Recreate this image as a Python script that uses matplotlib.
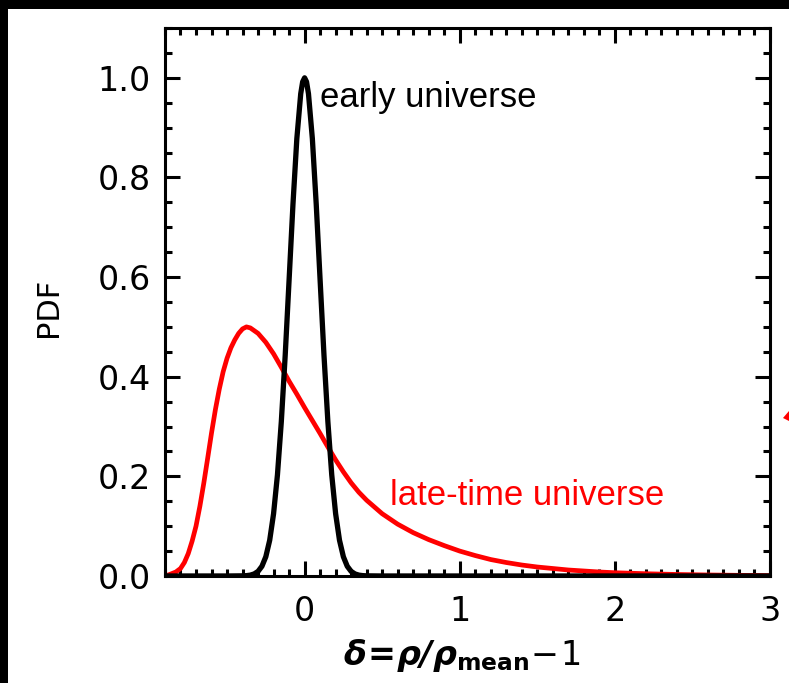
import matplotlib
matplotlib.use("Agg")
import matplotlib.pyplot as plt
from matplotlib.patches import Rectangle, Polygon
from matplotlib.ticker import MultipleLocator, FormatStrFormatter

# -------------------------
# data
# -------------------------
early_x = [-0.9, -0.5, -0.4, -0.375, -0.35, -0.325, -0.3, -0.275, -0.25, -0.225, -0.2,
           -0.175, -0.15, -0.125, -0.1, -0.075, -0.05, -0.025, -0.0125, 0.0, 0.0125,
           0.025, 0.05, 0.075, 0.1, 0.125, 0.15, 0.175, 0.2, 0.225, 0.25,
           0.275, 0.3, 0.325, 0.35, 0.375, 0.4, 0.5, 3.0]
early_pdf = [0.0, 0.0, 0.0003, 0.0007, 0.0017, 0.0041, 0.0092, 0.0195, 0.0386, 0.0717, 0.125,
             0.203, 0.310, 0.443, 0.594, 0.746, 0.878, 0.968, 0.992, 1.0, 0.992,
             0.968, 0.878, 0.746, 0.594, 0.443, 0.310, 0.203, 0.125, 0.0717, 0.0386,
             0.0195, 0.0092, 0.0041, 0.0017, 0.0007, 0.0003, 0.0, 0.0]

late_x = [-0.90, -0.87, -0.83, -0.80, -0.775, -0.75, -0.725, -0.70, -0.675, -0.65, -0.625,
          -0.60, -0.575, -0.55, -0.525, -0.50, -0.475, -0.45, -0.425, -0.40, -0.375,
          -0.35, -0.30, -0.25, -0.20, -0.15, -0.10, -0.05, 0.0, 0.05, 0.10, 0.15,
          0.20, 0.25, 0.30, 0.35, 0.40, 0.50, 0.60, 0.70, 0.80, 0.90, 1.00, 1.10,
          1.20, 1.30, 1.40, 1.50, 1.60, 1.70, 1.80, 1.90, 2.00, 2.20, 2.40, 2.60,
          2.80, 3.00]
late_pdf = [0.0, 0.003, 0.008, 0.015, 0.027, 0.045, 0.07, 0.10, 0.14, 0.186, 0.236,
            0.287, 0.334, 0.375, 0.41, 0.437, 0.458, 0.474, 0.487, 0.496, 0.50,
            0.498, 0.487, 0.469, 0.446, 0.419, 0.391, 0.365, 0.338, 0.312, 0.286, 0.259,
            0.233, 0.209, 0.187, 0.168, 0.152, 0.125, 0.104, 0.087, 0.073, 0.061, 0.05, 0.041,
            0.033, 0.027, 0.022, 0.018, 0.015, 0.012, 0.010, 0.008, 0.0065, 0.0045, 0.003, 0.002,
            0.0013, 0.0008]

x_ticks = [0, 1, 2, 3]
y_ticks = [0.0, 0.2, 0.4, 0.6, 0.8, 1.0]

# -------------------------
# figure
# -------------------------
plt.rcParams["mathtext.fontset"] = "custom"
plt.rcParams["mathtext.bf"] = "DejaVu Sans:bold:italic"
plt.rcParams["mathtext.sf"] = "DejaVu Sans:bold"
plt.rcParams["mathtext.rm"] = "DejaVu Sans"
plt.rcParams["mathtext.it"] = "DejaVu Sans:italic"

fig = plt.figure(figsize=(7.89, 6.83), dpi=100)
fig.patch.set_facecolor("black")
fig.add_artist(Rectangle((8 / 789, 0), 1, 674 / 683, transform=fig.transFigure,
                         facecolor="white", edgecolor="none", zorder=-10))
# cut-off red arrow head at the right edge
fig.add_artist(Polygon([(783 / 789, 265 / 683), (789 / 789, 272 / 683), (789 / 789, 262 / 683)],
                       closed=True, transform=fig.transFigure, facecolor="#ff0000",
                       edgecolor="none"))

ax = fig.add_axes([0.2091, 0.1567, 0.7668, 0.8023])
ax.plot(late_x, late_pdf, color="#ff0000", lw=3.4, zorder=2)
ax.plot(early_x, early_pdf, color="black", lw=3.8, zorder=3)

ax.set_xlim(-0.9, 3.0)
ax.set_ylim(0, 1.1)
ax.set_xticks(x_ticks)
ax.set_yticks(y_ticks)
ax.xaxis.set_minor_locator(MultipleLocator(0.1))
ax.yaxis.set_minor_locator(MultipleLocator(0.05))
ax.yaxis.set_major_formatter(FormatStrFormatter("%.1f"))

for s in ax.spines.values():
    s.set_linewidth(2.2)
ax.tick_params(which="both", direction="in", top=True, right=True, width=2.2)
ax.tick_params(which="major", length=11, labelsize=24)
ax.tick_params(axis="y", which="major", pad=10)
ax.tick_params(axis="x", which="major", pad=14)
ax.tick_params(which="minor", length=5)

ax.text(0.097, 0.942, "early universe", color="black", fontsize=25,
        family="Liberation Sans", va="baseline", ha="left")
ax.text(0.548, 0.1426, "late-time universe", color="#ff0000", fontsize=25,
        family="Liberation Sans", va="baseline", ha="left")

ax.set_ylabel("PDF", fontsize=22)
ax.yaxis.set_label_coords(-0.168, 0.49)
fig.text(0.585, 0.026, r"$\mathbf{\delta\!=\!\rho/\rho}_{\mathsf{mean}}\!-\!1$",
         fontsize=24, ha="center", va="baseline")

fig.savefig("out.png", dpi=100, facecolor=fig.get_facecolor())
